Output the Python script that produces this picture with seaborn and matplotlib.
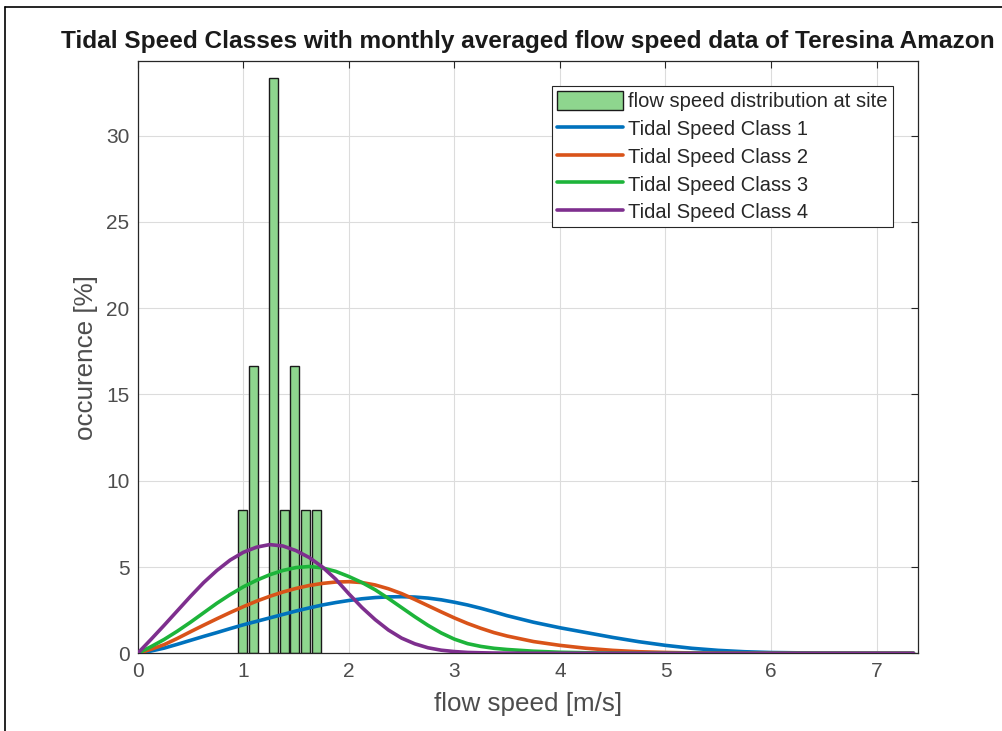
import numpy as np
import pandas as pd
import matplotlib
matplotlib.use("Agg")
import matplotlib.pyplot as plt
from matplotlib.lines import Line2D
import seaborn as sns

sns.set_theme(style="whitegrid")
plt.rcParams["font.family"] = ["Liberation Sans", "DejaVu Sans"]

# =========================
# datos
# =========================
# histograma de velocidad media mensual (12 meses -> %)
bar_speed = [0.99, 1.10, 1.29, 1.39, 1.49, 1.59, 1.69]
bar_occurrence = [8.33, 16.67, 33.33, 8.33, 16.67, 8.33, 8.33]

# curvas de las clases de marea
curve_speed = [0.0, 0.125, 0.25, 0.375, 0.5, 0.625, 0.75, 0.875, 1.0, 1.125,
               1.25, 1.375, 1.5, 1.625, 1.75, 1.875, 2.0, 2.125, 2.25, 2.375,
               2.5, 2.625, 2.75, 2.875, 3.0, 3.125, 3.25, 3.375, 3.5,
               3.75, 4.0, 4.25, 4.5, 4.75, 5.0, 5.25, 5.5, 5.75, 6.0, 6.5, 7.0, 7.35]
class1 = [0.0, 0.13, 0.3, 0.52, 0.75, 0.98, 1.2, 1.43, 1.65, 1.85,
          2.05, 2.25, 2.45, 2.63, 2.8, 2.94, 3.06, 3.16, 3.23, 3.27,
          3.28, 3.26, 3.2, 3.1, 2.96, 2.8, 2.61, 2.4, 2.18,
          1.8, 1.48, 1.2, 0.92, 0.67, 0.46, 0.29, 0.17, 0.09, 0.045, 0.01, 0.0, 0.0]
class2 = [0.0, 0.23, 0.5, 0.86, 1.25, 1.63, 2.0, 2.36, 2.7, 3.02,
          3.3, 3.55, 3.76, 3.93, 4.05, 4.13, 4.15, 4.1, 3.96, 3.74,
          3.46, 3.12, 2.76, 2.4, 2.05, 1.73, 1.45, 1.2, 1.0,
          0.68, 0.46, 0.29, 0.17, 0.09, 0.05, 0.02, 0.01, 0.0, 0.0, 0.0, 0.0, 0.0]
class3 = [0.0, 0.38, 0.8, 1.28, 1.8, 2.35, 2.9, 3.4, 3.85, 4.23,
          4.55, 4.8, 4.97, 5.03, 4.95, 4.75, 4.45, 4.1, 3.68, 3.18,
          2.65, 2.12, 1.62, 1.18, 0.82, 0.56, 0.4, 0.29, 0.22,
          0.12, 0.06, 0.03, 0.01, 0.0, 0.0, 0.0, 0.0, 0.0, 0.0, 0.0, 0.0, 0.0]
class4 = [0.0, 0.8, 1.62, 2.46, 3.3, 4.1, 4.8, 5.4, 5.85, 6.15,
          6.3, 6.22, 5.95, 5.55, 5.0, 4.3, 3.45, 2.65, 1.95, 1.35,
          0.88, 0.55, 0.32, 0.18, 0.1, 0.05, 0.03, 0.015, 0.01,
          0.0, 0.0, 0.0, 0.0, 0.0, 0.0, 0.0, 0.0, 0.0, 0.0, 0.0, 0.0, 0.0]

class_names = ["Tidal Speed Class 1", "Tidal Speed Class 2",
               "Tidal Speed Class 3", "Tidal Speed Class 4"]
class_colors = ["#0072BD", "#D95319", "#1DB43A", "#7E2F8E"]

x_ticks = [0, 1, 2, 3, 4, 5, 6, 7]
y_ticks = [0, 5, 10, 15, 20, 25, 30]

# =========================
# figura
# =========================
fig = plt.figure(figsize=(10.03, 7.31), dpi=100)
ax = fig.add_axes([0.1373, 0.1063, 0.7777, 0.8103])
ax.set_facecolor("white")

bars = ax.bar(bar_speed, bar_occurrence, width=0.085, color="#8ED68E",
              edgecolor="#1a1a1a", linewidth=1.0,
              label="flow speed distribution at site", zorder=2)

for vals, name, col in zip([class1, class2, class3, class4], class_names, class_colors):
    df = pd.DataFrame({"speed": curve_speed, "occ": vals})
    sns.lineplot(data=df, x="speed", y="occ", color=col, linewidth=2.6,
                 label=name, ax=ax, zorder=3)

ax.set_xlim(0, 7.39)
ax.set_ylim(0, 34.33)
ax.set_xticks(x_ticks)
ax.set_yticks(y_ticks)
ax.grid(True, color="#dcdcdc", linewidth=0.8)
ax.tick_params(direction="in", length=5, width=0.8, colors="#262626",
               labelsize=15, top=True, right=True, pad=6)
ax.tick_params(axis="both", labelcolor="#4d4d4d")
for s in ax.spines.values():
    s.set_color("#262626")
    s.set_linewidth(0.9)

ax.set_xlabel("flow speed [m/s]", fontsize=18.7, color="#4d4d4d", labelpad=8)
ax.set_ylabel("occurence [%]", fontsize=18.7, color="#4d4d4d", labelpad=6)
ax.set_title("Tidal Speed Classes with monthly averaged flow speed data of Teresina Amazon",
             fontsize=17.6, fontweight="bold", color="#1a1a1a", pad=9)

# leyenda: barras primero
handles, labels = ax.get_legend_handles_labels()
order = [labels.index("flow speed distribution at site")] + \
        [labels.index(n) for n in class_names]
leg = ax.legend([handles[i] for i in order], [labels[i] for i in order],
                loc="upper right", bbox_to_anchor=(0.968, 0.958), borderaxespad=0,
                fontsize=14.5, fancybox=False, framealpha=1, edgecolor="#262626",
                handlelength=3.3, handleheight=1.1, labelspacing=0.36,
                borderpad=0.25, handletextpad=0.25)
leg.get_frame().set_linewidth(0.8)

# borde de la captura
fig.add_artist(Line2D([5 / 1003, 1], [1 - 7 / 731, 1 - 7 / 731], color="black",
                      linewidth=1.2, transform=fig.transFigure))
fig.add_artist(Line2D([5 / 1003, 5 / 1003], [0, 1 - 7 / 731], color="black",
                      linewidth=1.2, transform=fig.transFigure))

fig.savefig("out.png", dpi=100)
